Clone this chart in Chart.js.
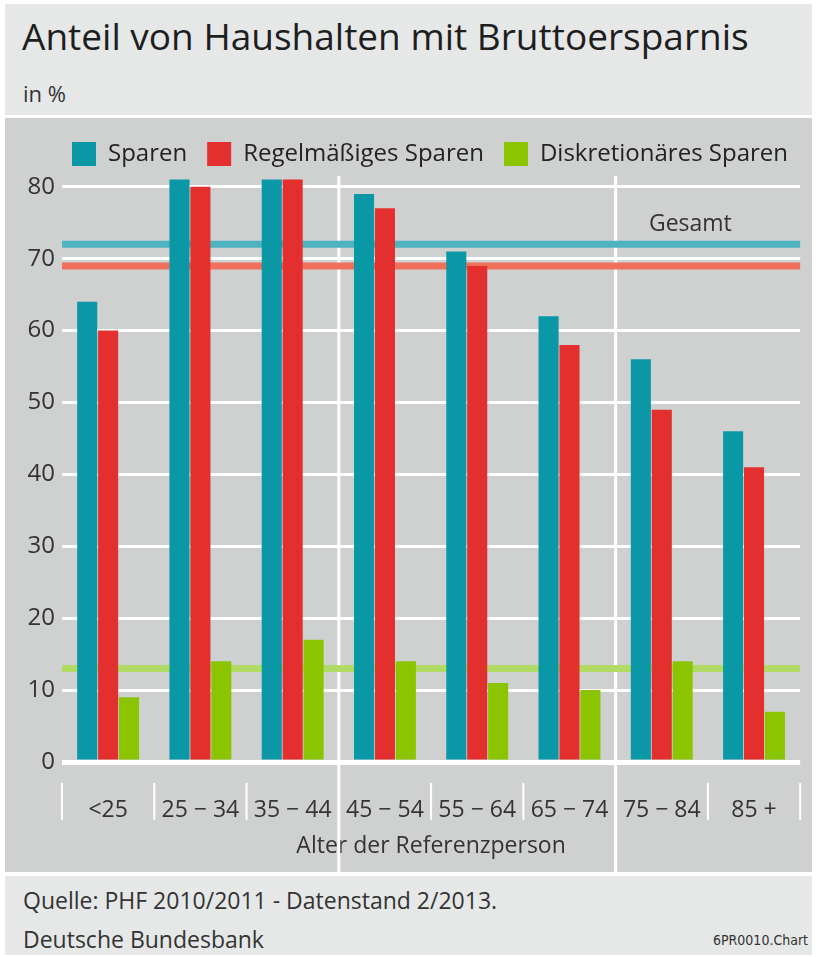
<!DOCTYPE html>
<html lang="de">
<head>
<meta charset="utf-8">
<script src="https://cdn.jsdelivr.net/npm/chart.js@4.4.1/dist/chart.umd.min.js"></script>
<style>
  body { margin: 0; background: #fff; font-family: "Open Sans", sans-serif; color: #2b2b2b; }
  #frame { position: absolute; left: 5px; top: 4px; width: 807px; height: 951px; }
  #head { position: absolute; left: 0; top: 0; width: 807px; height: 111px; background: #e6e8e8; }
  #head h1 { position: absolute; left: 17px; top: 6px; margin: 0; font-weight: 400; font-size: 37px; color: #1e1e1e; }
  #head .unit { position: absolute; left: 18px; top: 74px; font-size: 22px; color: #333; }
  #plot { position: absolute; left: 0; top: 114px; width: 807px; height: 754px; background: #cfd1d1; }
  #foot { position: absolute; left: 0; top: 872px; width: 807px; height: 79px; background: #e6e8e8; }
  #foot .src { position: absolute; left: 18px; top: 8px; font-size: 23px; color: #333; }
  #foot .org { position: absolute; left: 18px; top: 47px; font-size: 23px; color: #333; }
  #foot .code { position: absolute; right: 4px; top: 56px; font-size: 14px; color: #333;
    font-family: "Liberation Sans Narrow", "DejaVu Sans Condensed", sans-serif; }
</style>
</head>
<body>
<div id="frame">
  <div id="head">
    <h1>Anteil von Haushalten mit Bruttoersparnis</h1>
    <div class="unit">in %</div>
  </div>
  <div id="plot"><canvas id="savingChart" width="807" height="754"></canvas></div>
  <div id="foot">
    <div class="src">Quelle: PHF 2010/2011 - Datenstand 2/2013.</div>
    <div class="org">Deutsche Bundesbank</div>
    <div class="code">6PR0010.Chart</div>
  </div>
</div>
<script>
// Altersgruppen und Anteile in %
const ageGroups = ['<25', '25 \u2212 34', '35 \u2212 44', '45 \u2212 54', '55 \u2212 64', '65 \u2212 74', '75 \u2212 84', '85 +'];
const sparen = [64, 81, 81, 79, 71, 62, 56, 46];
const regelmaessig = [60, 80, 81, 77, 69, 58, 49, 41];
const diskretionaer = [9, 14, 17, 14, 11, 10, 14, 7];
// Gesamt-Werte (waagerechte Linien)
const gesamt = [72, 69, 13];
const yTicks = [0, 10, 20, 30, 40, 50, 60, 70, 80];

const barColors = ['#0a97a6', '#e3302f', '#8bc400'];
const lineColors = ['#4db3bf', '#f0705c', '#b2db66'];
// after these group indexes a full-height divider is drawn
const dividers = [2, 5];

const fontFamily = '"Open Sans", sans-serif';

const decorPlugin = {
    id: 'decor',
    beforeDatasetsDraw(chart) {
        const c = chart.ctx;
        const x = chart.scales.x;
        const y = chart.scales.y;
        const area = chart.chartArea;
        c.save();
        // boundaries between age groups
        c.strokeStyle = '#ffffff';
        for (let i = -1; i < ageGroups.length; i++) {
            let bx;
            if (i < 0) bx = area.left;
            else if (i === ageGroups.length - 1) bx = area.right;
            else bx = (x.getPixelForValue(i) + x.getPixelForValue(i + 1)) / 2;
            c.beginPath();
            if (dividers.includes(i)) {
                c.lineWidth = 3;
                c.moveTo(bx, area.top);
                c.lineTo(bx, chart.height);
            } else {
                c.lineWidth = 2;
                c.moveTo(bx, area.bottom + 21);
                c.lineTo(bx, area.bottom + 58);
            }
            c.stroke();
        }
        // Gesamt lines
        gesamt.forEach((v, i) => {
            const py = y.getPixelForValue(v);
            c.strokeStyle = lineColors[i];
            c.lineWidth = 7;
            c.beginPath();
            c.moveTo(area.left, py);
            c.lineTo(area.right, py);
            c.stroke();
        });
        const step = x.getPixelForValue(7) - x.getPixelForValue(6);
        c.fillStyle = '#333';
        c.font = '23px ' + fontFamily;
        c.textAlign = 'center';
        c.textBaseline = 'bottom';
        c.fillText('Gesamt', x.getPixelForValue(6) + step * 0.31, y.getPixelForValue(gesamt[0]) - 8);
        c.restore();
    }
};

const ctx = document.getElementById('savingChart').getContext('2d');
const savingChart = new Chart(ctx, {
    type: 'bar',
    data: {
        labels: ageGroups,
        datasets: [
            { label: 'Sparen', data: sparen, backgroundColor: barColors[0] },
            { label: 'Regelmäßiges Sparen', data: regelmaessig, backgroundColor: barColors[1] },
            { label: 'Diskretionäres Sparen', data: diskretionaer, backgroundColor: barColors[2] }
        ]
    },
    options: {
        responsive: false,
        animation: false,
        events: [],
        layout: { padding: { left: 0, right: 4, top: 4, bottom: 0 } },
        datasets: { bar: { categoryPercentage: 0.68, barPercentage: 0.96 } },
        plugins: {
            legend: {
                position: 'top',
                align: 'end',
                labels: {
                    boxWidth: 24,
                    boxHeight: 24,
                    padding: 20,
                    color: '#222',
                    font: { family: fontFamily, size: 24 }
                }
            },
            tooltip: { enabled: false }
        },
        scales: {
            x: {
                grid: { display: false, drawTicks: false },
                border: { display: false },
                ticks: { color: '#333', padding: 35, font: { family: fontFamily, size: 23 } },
                title: {
                    display: true,
                    text: 'Alter der Referenzperson',
                    color: '#333',
                    padding: { top: 2, bottom: 12 },
                    font: { family: fontFamily, size: 23 }
                },
                afterFit(scale) { scale.height = 110; }
            },
            y: {
                min: 0,
                max: 81.5,
                afterBuildTicks(scale) { scale.ticks = yTicks.map(v => ({ value: v })); },
                grid: {
                    color: '#ffffff',
                    lineWidth: c => (c.tick && c.tick.value === 0 ? 5 : 3),
                    drawTicks: false
                },
                border: { display: false },
                ticks: { color: '#333', padding: 7, font: { family: fontFamily, size: 24 } },
                afterFit(scale) { scale.width = 57; }
            }
        }
    },
    plugins: [decorPlugin]
});
</script>
</body>
</html>
